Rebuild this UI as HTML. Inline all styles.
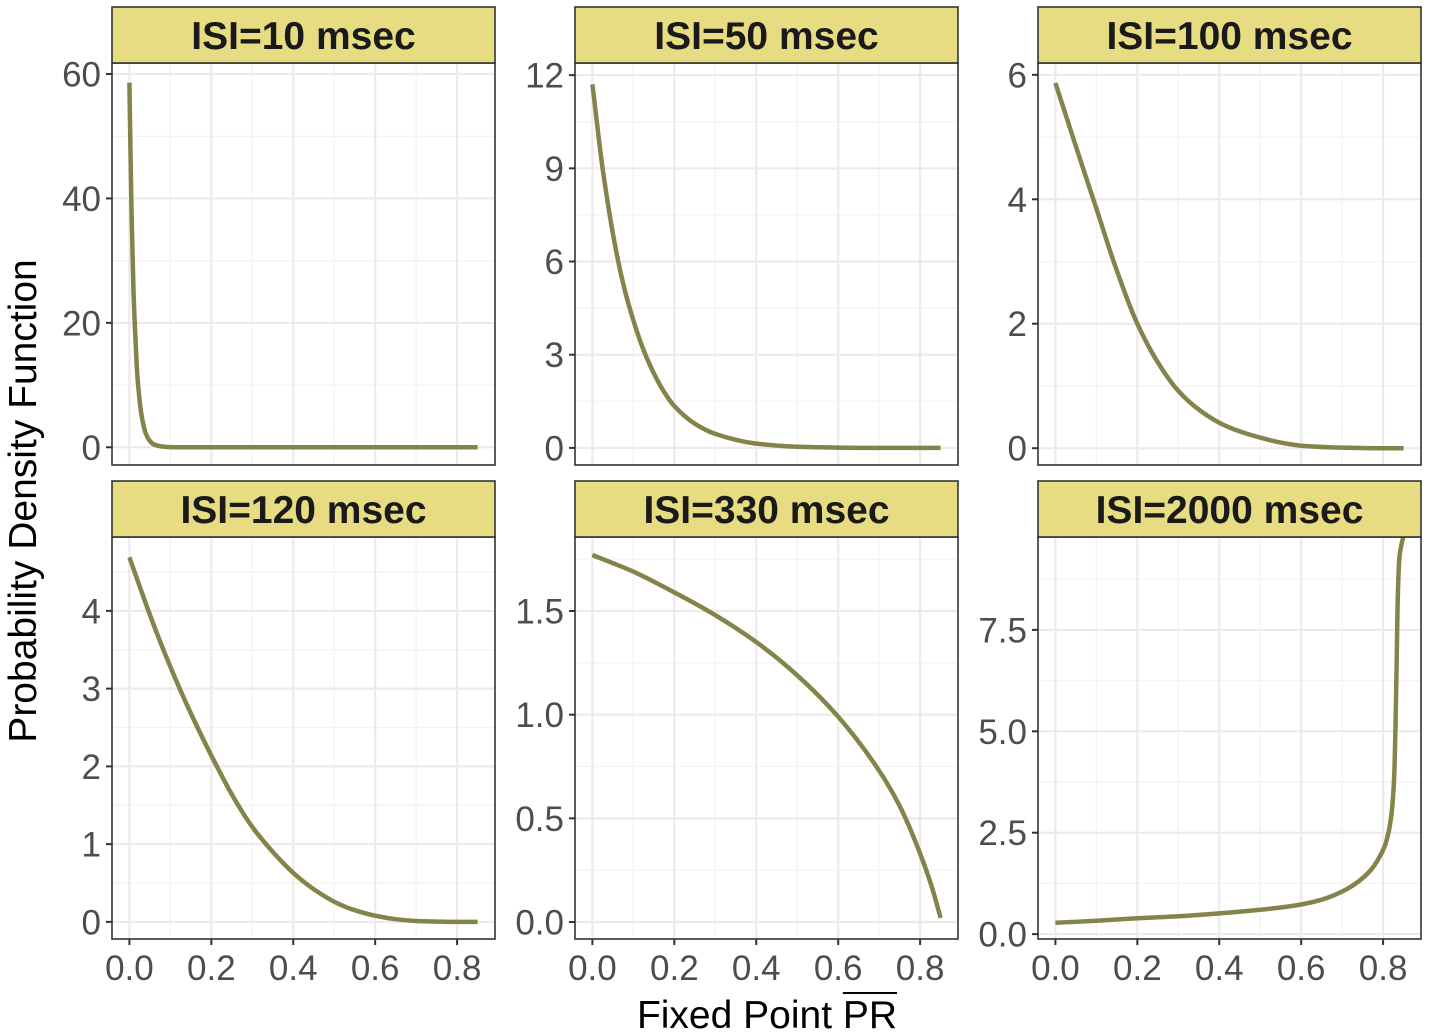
<!DOCTYPE html>
<html><head><meta charset="utf-8"><style>
body{margin:0;background:#fff;}
svg{display:block;font-family:"Liberation Sans",Arial,sans-serif;}
</style></head><body>
<svg id="chart" width="1429" height="1034" viewBox="0 0 1429 1034" xmlns="http://www.w3.org/2000/svg">
<text x="0" y="0" transform="translate(36,501) rotate(-90)" text-anchor="middle" font-size="39" fill="#000">Probability Density Function</text>
<text id="xtitle" x="767" y="1028" text-anchor="middle" font-size="39" fill="#000">Fixed Point <tspan id="prspan">PR</tspan></text>
<line id="overline" x1="842" y1="993" x2="898" y2="993" stroke="#000" stroke-width="2"/>
</svg>
<script>
const panelTitles = ["ISI=10 msec","ISI=50 msec","ISI=100 msec","ISI=120 msec","ISI=330 msec","ISI=2000 msec"];
const xTicks = [0,0.2,0.4,0.6,0.8];
const xTickLabels = ["0.0","0.2","0.4","0.6","0.8"];
const yTicks1 = [0,20,40,60];
const yTicks2 = [0,3,6,9,12];
const yTicks3 = [0,2,4,6];
const yTicks4 = [0,1,2,3,4];
const yTicks5 = [0,0.5,1.0,1.5];
const yTicks6 = [0,2.5,5.0,7.5];
const yTickLabels5 = ["0.0","0.5","1.0","1.5"];
const yTickLabels6 = ["0.0","2.5","5.0","7.5"];
const yDomains = [[-2.85,61.77],[-0.55,12.39],[-0.27,6.19],[-0.22,4.95],[-0.082,1.857],[-0.12,9.79]];
const x1 = [0,0.005,0.01,0.015,0.02,0.025,0.03,0.04,0.05,0.06,0.08,0.1,0.15,0.3,0.5,0.7,0.85];
const y1 = [58.6,38,25,17,11,7.5,5,2.2,1,0.45,0.12,0.03,0,0,0,0,0];
const x2 = [0,0.025,0.05,0.075,0.1,0.125,0.15,0.175,0.2,0.25,0.3,0.4,0.5,0.6,0.7,0.85];
const y2 = [11.7,9.0,6.9,5.3,4.1,3.15,2.4,1.8,1.35,0.78,0.45,0.14,0.04,0.01,0,0];
const x3 = [0,0.05,0.1,0.15,0.2,0.25,0.3,0.35,0.4,0.45,0.5,0.55,0.6,0.7,0.8,0.85];
const y3 = [5.87,4.85,3.85,2.85,2.0,1.38,0.92,0.62,0.41,0.27,0.17,0.09,0.04,0.01,0,0];
const x4 = [0,0.05,0.1,0.15,0.2,0.25,0.3,0.35,0.4,0.45,0.5,0.55,0.6,0.65,0.7,0.8,0.85];
const y4 = [4.69,3.95,3.28,2.68,2.14,1.64,1.22,0.9,0.63,0.42,0.26,0.15,0.08,0.035,0.012,0,0];
const x5 = [0,0.1,0.2,0.3,0.4,0.5,0.6,0.7,0.75,0.8,0.83,0.85];
const y5 = [1.77,1.69,1.59,1.48,1.35,1.19,0.99,0.73,0.56,0.33,0.16,0.02];
const x6 = [0,0.1,0.2,0.3,0.4,0.5,0.6,0.65,0.7,0.74,0.77,0.79,0.805,0.815,0.822,0.827,0.83,0.833,0.836,0.84,0.852];
const y6 = [0.28,0.33,0.39,0.44,0.51,0.6,0.73,0.85,1.05,1.3,1.58,1.88,2.2,2.6,3.1,3.9,5.0,6.6,8.4,9.3,9.9];

const NS="http://www.w3.org/2000/svg";
const svg=document.getElementById('chart');
function mk(tag,attrs,parent){const e=document.createElementNS(NS,tag);for(const k in attrs)e.setAttribute(k,attrs[k]);(parent||svg).appendChild(e);return e;}
function monoPath(px,py){
  const n=px.length;
  const dx=[],m=[],t=[];
  for(let i=0;i<n-1;i++){dx[i]=px[i+1]-px[i];m[i]=(py[i+1]-py[i])/dx[i];}
  t[0]=m[0];t[n-1]=m[n-2];
  for(let i=1;i<n-1;i++){ if(m[i-1]*m[i]<=0) t[i]=0; else { const w1=2*dx[i]+dx[i-1], w2=dx[i]+2*dx[i-1]; t[i]=(w1+w2)/(w1/m[i-1]+w2/m[i]); } }
  let d='M'+px[0].toFixed(1)+','+py[0].toFixed(1);
  for(let i=0;i<n-1;i++){const h=dx[i]/3;
    d+='C'+(px[i]+h).toFixed(1)+','+(py[i]+t[i]*h).toFixed(1)+' '+(px[i+1]-h).toFixed(1)+','+(py[i+1]-t[i+1]*h).toFixed(1)+' '+px[i+1].toFixed(1)+','+py[i+1].toFixed(1);}
  return d;
}
const colL=[112,575,1038], rowT=[63,537], PW=383, PH=402;
const xd=[-0.0425,0.8925];
const yTicksAll=[yTicks1,yTicks2,yTicks3,yTicks4,yTicks5,yTicks6];
const yLabAll=[null,null,null,null,yTickLabels5,yTickLabels6];
const xs=[x1,x2,x3,x4,x5,x6], ys=[y1,y2,y3,y4,y5,y6];
for(let p=0;p<6;p++){
  const L=colL[p%3], T=rowT[Math.floor(p/3)];
  const sx=v=>L+(v-xd[0])/(xd[1]-xd[0])*PW;
  const yd=yDomains[p];
  const sy=v=>T+PH-(v-yd[0])/(yd[1]-yd[0])*PH;
  const g=mk('g',{});
  
  
  mk('rect',{x:L,y:T,width:PW,height:PH,fill:'#fff'},g);
  for(let i=0;i<xTicks.length;i++){const v=xTicks[i]+0.1; if(v<xd[1]) mk('line',{x1:sx(v),x2:sx(v),y1:T,y2:T+PH,stroke:'#f2f2f2','stroke-width':1.2},g);}
  const yt=yTicksAll[p], step=yt[1]-yt[0];
  for(let i=-1;i<yt.length;i++){const v=yt[0]+step*(i+0.5); if(v>yd[0]&&v<yd[1]) mk('line',{x1:L,x2:L+PW,y1:sy(v),y2:sy(v),stroke:'#f2f2f2','stroke-width':1.2},g);}
  for(let i=0;i<xTicks.length;i++){mk('line',{x1:sx(xTicks[i]),x2:sx(xTicks[i]),y1:T,y2:T+PH,stroke:'#ebebeb','stroke-width':2.2},g);}
  for(let i=0;i<yt.length;i++){mk('line',{x1:L,x2:L+PW,y1:sy(yt[i]),y2:sy(yt[i]),stroke:'#ebebeb','stroke-width':2.2},g);}
  for(let i=0;i<yt.length;i++){
    mk('line',{x1:L-6,x2:L,y1:sy(yt[i]),y2:sy(yt[i]),stroke:'#333','stroke-width':2},g);
    const t=mk('text',{x:L-11,y:sy(yt[i])+12.5,'text-anchor':'end','font-size':35,fill:'#4d4d4d'},g);
    
    
    t.textContent=yLabAll[p]?yLabAll[p][i]:String(yt[i]);
  }
  if(p>=3){
    for(let i=0;i<xTicks.length;i++){
      mk('line',{x1:sx(xTicks[i]),x2:sx(xTicks[i]),y1:T+PH,y2:T+PH+6,stroke:'#333','stroke-width':2},g);
      const t=mk('text',{x:sx(xTicks[i]),y:980,'text-anchor':'middle','font-size':35,fill:'#4d4d4d'},g);
      
      
      t.textContent=xTickLabels[i];
    }
  }
  const cid='clip'+p;
  const cp=mk('clipPath',{id:cid},g); mk('rect',{x:L,y:T,width:PW,height:PH},cp);
  const d=monoPath(xs[p].map(sx),ys[p].map(sy));
  const path=mk('path',{d:d,fill:'none',stroke:'#84844a','stroke-width':4.5,'stroke-linejoin':'round','clip-path':'url(#'+cid+')'},g);
  
  
  mk('rect',{x:L,y:T,width:PW,height:PH,fill:'none',stroke:'#333','stroke-width':1.6},g);
  const s=mk('rect',{x:L,y:T-56,width:PW,height:56,fill:'#e8dc82',stroke:'#333','stroke-width':1.6},g);
  
  
  const st=mk('text',{x:L+PW/2,y:T-14,'text-anchor':'middle','font-size':39,'font-weight':'bold',fill:'#1a1a1a'},g);
  
  
  st.textContent=panelTitles[p];
}
try{
  const xt=document.getElementById('xtitle');
  const n=xt.getNumberOfChars();
  const s0=xt.getStartPositionOfChar(n-2), e1=xt.getEndPositionOfChar(n-1);
  const ol=document.getElementById('overline');
  ol.setAttribute('x1',s0.x); ol.setAttribute('x2',e1.x);
}catch(e){}
</script>
</body></html>
